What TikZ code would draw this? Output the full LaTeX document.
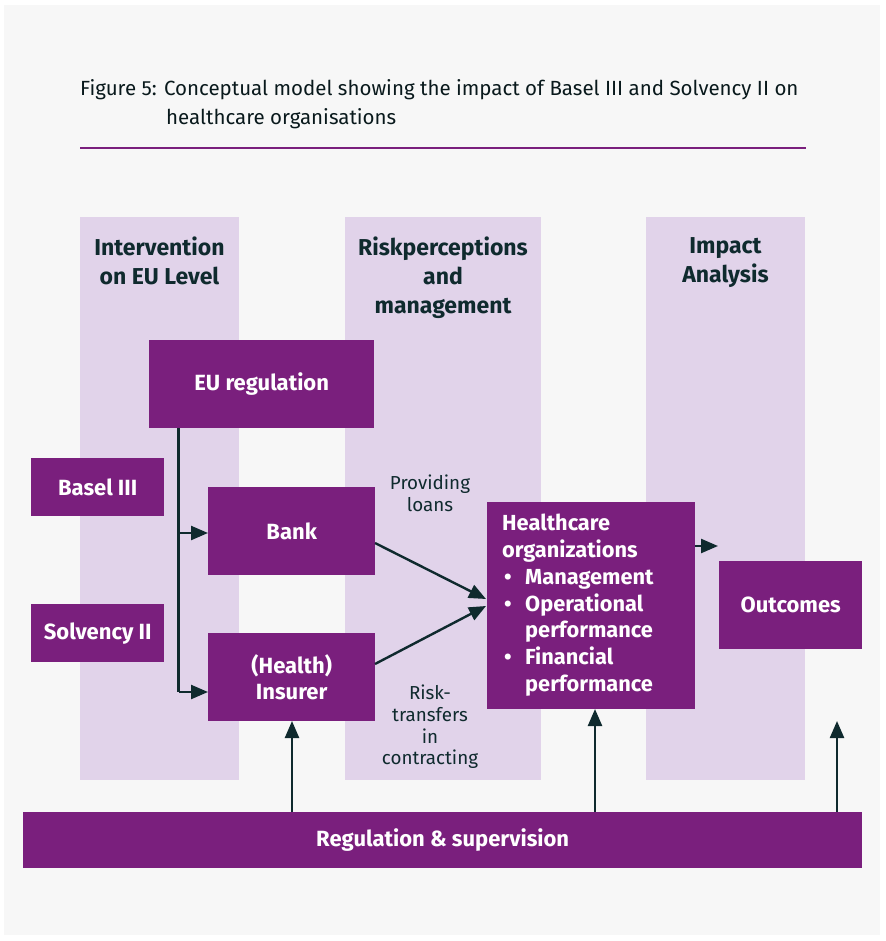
\documentclass[tikz,border=0pt]{standalone}
\usepackage{fontspec}
\setmainfont{Fira Sans}
\usetikzlibrary{arrows.meta}
\definecolor{bgc}{HTML}{F7F7F7}
\definecolor{lav}{HTML}{E1D3EA}
\definecolor{purp}{HTML}{7A1F7D}
\definecolor{ink}{HTML}{0F2A2E}
\tikzset{
  pbox/.style={fill=purp, text=white, font=\bfseries\fontsize{22}{26}\selectfont, align=center, inner sep=0pt, anchor=north west},
  col/.style={fill=lav, draw=none},
  hdr/.style={text=ink, font=\bfseries\fontsize{23}{29}\selectfont, align=center, anchor=north, inner sep=0pt},
  lbl/.style={text=ink, font=\fontsize{18.8}{21.7}\selectfont, align=center, anchor=north, inner sep=0pt},
  arr/.style={draw=ink, line width=2.4pt, -{Triangle[length=17pt,width=14pt]}},
  ln/.style={draw=ink, line width=2.4pt},
}
\begin{document}
\begin{tikzpicture}[x=1pt,y=-1pt]
\useasboundingbox (0,0) rectangle (885,941);
\fill[white] (0,0) rectangle (885,941);
\fill[bgc] (4,5) rectangle (880,935);
% title
\node[anchor=base west, text=ink!60!black, font=\fontsize{20.5}{24}\selectfont, inner sep=0pt] (t1) at (80,96) {Figure 5: Conceptual model showing the impact of Basel III and Solvency II on};
\node[anchor=base west, text=ink!60!black, font=\fontsize{20.5}{24}\selectfont, inner sep=0pt] (t2) at (166,125) {healthcare organisations};
\draw[purp, line width=1.3pt] (80,148) -- (806,148);
% columns
\fill[col] (80,217) rectangle (239,780);
\fill[col] (345,217) rectangle (541,780);
\fill[col] (646,217) rectangle (805,780);
\node[hdr] (h1) at (159.5,237) {Intervention\\on EU Level};
\node[hdr] (h2) at (443,237) {Riskperceptions\\and\\management};
\node[hdr] (h3) at (725.5,237) {Impact\\Analysis};
% boxes
\node[pbox, minimum width=225pt, minimum height=88pt] (eu) at (149,340) {EU regulation};
\node[pbox, minimum width=133pt, minimum height=58pt] (basel) at (31,458) {Basel III};
\node[pbox, minimum width=133pt, minimum height=58pt] (solv) at (31,604) {Solvency II};
\node[pbox, minimum width=167pt, minimum height=88pt] (bank) at (208,487) {Bank};
\node[pbox, minimum width=167pt, minimum height=88pt] (ins) at (208,633) {(Health)\\Insurer};
\node[pbox, minimum width=208pt, minimum height=207pt] (hc) at (487,502) {};
\node[anchor=north west, text=white, font=\bfseries\fontsize{21.8}{26.8}\selectfont, align=left, inner sep=0pt] (hctxt) at (502,514)
  {Healthcare\\organizations\\
   \hbox to 23pt{\hspace{2pt}\textbullet\hfil}Management\\
   \hbox to 23pt{\hspace{2pt}\textbullet\hfil}Operational\\
   \hbox to 23pt{\hfil}performance\\
   \hbox to 23pt{\hspace{2pt}\textbullet\hfil}Financial\\
   \hbox to 23pt{\hfil}performance};
\node[pbox, minimum width=143pt, minimum height=88pt] (out) at (719,561) {Outcomes};
\node[pbox, minimum width=839pt, minimum height=56pt] (reg) at (23,812) {Regulation \& supervision};
% labels
\node[lbl] (l1) at (430,475) {Providing\\loans};
\node[lbl] (l2) at (430,685) {Risk-\\transfers\\in\\contracting};
% connectors
\coordinate (j) at (178.5,428);
\coordinate (jb) at (178.5,533);
\coordinate (ji) at (178.5,692);
\draw[ln] (eu.south west -| j) -- (ji);
\draw[arr] (jb) -- (jb -| bank.west);
\draw[arr] (ji) -- (ji -| ins.west);
\coordinate (hcin1) at (486,599);
\coordinate (hcin2) at (486,606);
\draw[arr] (375,543) -- (hcin1);
\draw[arr] (375,664) -- (hcin2);
\draw[arr] (695,546) -- (718,546);
\draw[arr] (292,812) -- (292,721);
\draw[arr] (595,812) -- (595,709);
\coordinate (oup) at (837,721);
\draw[arr] (837,812) -- (oup);
\end{tikzpicture}
\end{document}
